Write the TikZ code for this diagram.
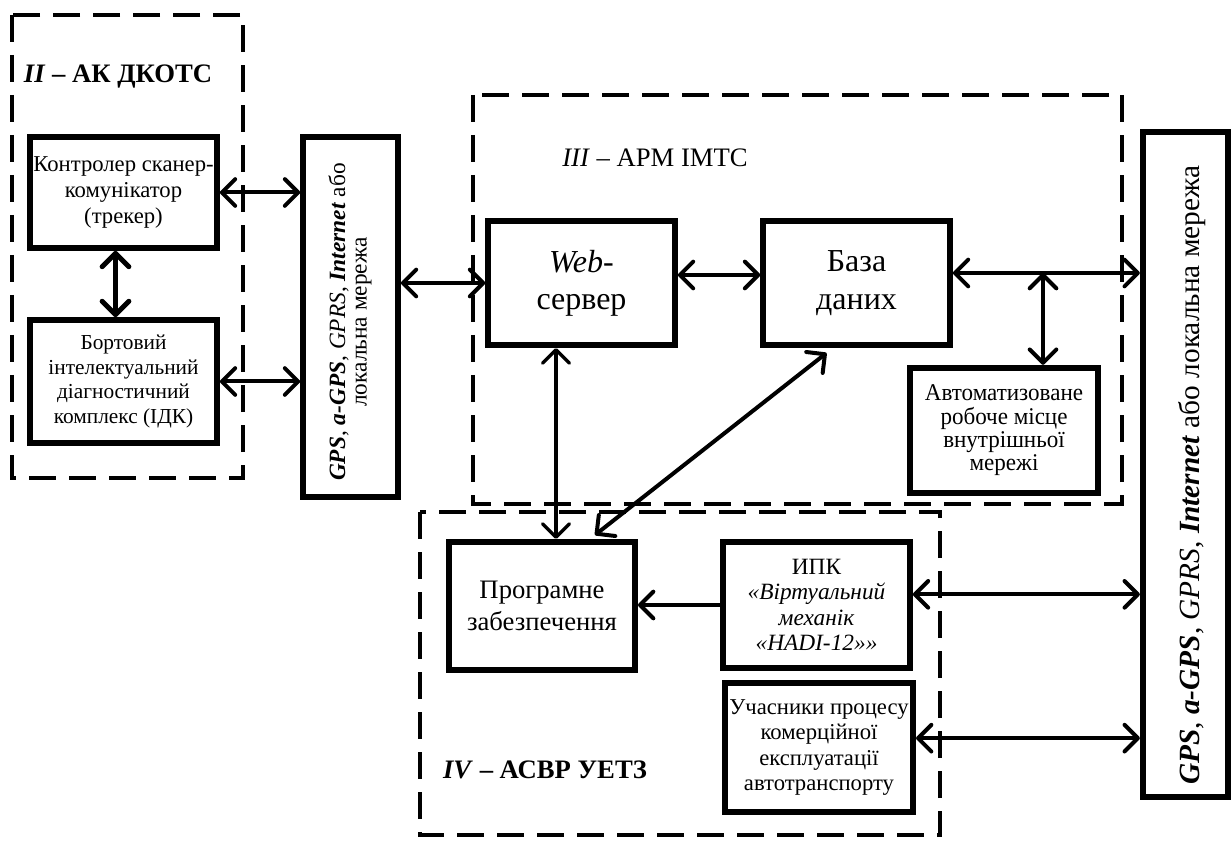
\documentclass[tikz,border=0pt]{standalone}
\usepackage{fontspec}
\setmainfont{Liberation Serif}
\newfontfamily\narrowfont[FakeStretch=0.96]{Liberation Serif}
\usetikzlibrary{arrows.meta}
\usetikzlibrary{calc,positioning}

\begin{document}
\begin{tikzpicture}
  [x=0.75pt,y=-0.75pt,
   font=\fontsize{17}{19.5}\selectfont,
   block/.style={rectangle,draw,line width=4.5pt,inner sep=0pt,align=center},
   group/.style={draw,line width=2.6pt,dash pattern=on 20pt off 10pt},
   title/.style={font=\fontsize{20}{24}\selectfont,inner sep=0pt},
   barb/.tip={Straight Barb[length=10pt,width=20pt,round]},
   link/.style={line width=3pt,barb-barb},
   feed/.style={line width=3pt,-barb}]

  \useasboundingbox (0,0) rectangle (1231,841);

  % dashed subsystems
  \draw[group] (12,15) rectangle (243,478);
  \draw[group] (473,95) rectangle (1122,504);
  \draw[group] (420,512) rectangle (940,835);
  \node[title] (titleII) at (118,77) {\textbf{\textit{II} – АК ДКОТС}};
  \node[title] (titleIII) at (655,158) {\textit{III} – АРМ ІМТС};
  \node[title] (titleIV) at (545,770) {\textbf{\textit{IV} – АСВР УЕТЗ}};

  % II
  \node[block,minimum width=140pt,minimum height=83pt] (tracker) at (123.5,192.5)
    {Контролер сканер-\\комунікатор\\(трекер)};
  \node[block,minimum width=140pt,minimum height=92pt,font=\fontsize{16}{18.5}\selectfont] (board) at (123.5,381.5)
    {Бортовий\\інтелектуальний\\діагностичний\\комплекс (ІДК)};

  % networks
  \node[block,minimum width=71pt,minimum height=270pt] (netA) at (350.5,317) {};
  \node[rotate=90,align=center,font=\fontsize{17.5}{16}\selectfont] (netAtext) at (350,322)
    {\textbf{\textit{GPS}}, \textbf{\textit{a-GPS}}, \textit{GPRS}, \textbf{\textit{Internet}} або\\локальна мережа};
  \node[block,minimum width=64pt,minimum height=499pt] (netB) at (1185.5,464.5) {};
  \node[rotate=90,font=\fontsize{22}{24}\selectfont] (netBtext) at (1192,475)
    {\textbf{\textit{GPS}}, \textbf{\textit{a-GPS}}, \textit{GPRS}, \textbf{\textit{Internet}} або локальна мережа};

  % III
  \node[block,minimum width=140pt,minimum height=93pt,font=\fontsize{24}{28}\selectfont] (web) at (581.5,283)
    {\textit{Web}-\\сервер};
  \node[block,minimum width=140pt,minimum height=93pt,font=\fontsize{24}{28}\selectfont] (db) at (856.5,283)
    {База\\даних};
  \node[block,minimum width=141pt,minimum height=94pt,font=\narrowfont\fontsize{18}{17.5}\selectfont] (arm) at (1004,430.5)
    {Автоматизоване\\робоче місце\\внутрішньої\\мережі};

  % IV
  \node[block,minimum width=139.5pt,minimum height=96pt,font=\fontsize{20}{24}\selectfont] (prog) at (542,606)
    {Програмне\\забезпечення};
  \node[block,minimum width=140pt,minimum height=94.5pt,font=\fontsize{17.5}{19}\selectfont] (ipk) at (816.5,605)
    {ИПК\\\textit{«Віртуальний}\\\textit{механік}\\\textit{«HADI-12»»}};
  \node[block,minimum width=141pt,minimum height=97pt,font=\fontsize{17}{19}\selectfont] (uch) at (819,747.5)
    {Учасники процесу\\комерційної\\експлуатації\\автотранспорту};

  % links
  \draw[link] (tracker.east) -- (tracker.east -| netA.west);
  \draw[link] (board.east) -- (board.east -| netA.west);
  \draw[link,line width=3.8pt] ([xshift=-6pt]tracker.south) -- ([xshift=-6pt]board.north);
  \draw[link] (web.west -| netA.east) -- (web.west);
  \draw[link] ([yshift=6pt]web.east) -- ([yshift=6pt]db.west);
  \coordinate (fork) at (1043,273);
  \draw[link] (fork -| db.east) -- (fork -| netB.west);
  \draw[link] (fork) -- (fork |- arm.north);
  \coordinate (drop) at (556,0);
  \draw[link,line width=2.6pt] (drop |- web.south) -- (drop |- prog.north);
  \draw[link] ($(db.south)+(-30,5)$) -- ($(prog.north)+(53,-4)$);
  \draw[feed] (ipk.west) -- (ipk.west -| prog.east);
  \draw[link] ([yshift=8pt]ipk.east) -- ([yshift=8pt]ipk.east -| netB.west);
  \draw[link] ([yshift=7pt]uch.east) -- ([yshift=7pt]uch.east -| netB.west);
\end{tikzpicture}
\end{document}
